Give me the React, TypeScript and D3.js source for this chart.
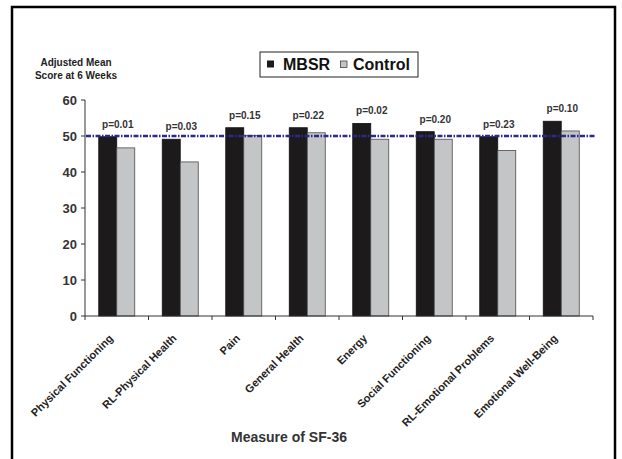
import React, { useEffect } from 'react';
import * as d3 from 'd3';

// SF-36 subscales
const measures = [
  'Physical Functioning',
  'RL-Physical Health',
  'Pain',
  'General Health',
  'Energy',
  'Social Functioning',
  'RL-Emotional Problems',
  'Emotional Well-Being',
];
const mbsrScores = [49.8, 49.1, 52.3, 52.3, 53.5, 51.2, 49.8, 54.1];
const controlScores = [46.7, 42.8, 50.1, 50.9, 49.1, 49.1, 46.0, 51.4];
const pValues = ['p=0.01', 'p=0.03', 'p=0.15', 'p=0.22', 'p=0.02', 'p=0.20', 'p=0.23', 'p=0.10'];
const yTicks = [0, 10, 20, 30, 40, 50, 60];
const referenceScore = 50;
const seriesNames = ['MBSR', 'Control'];

const W = 622;
const H = 459;
const font = '"Liberation Sans", Arial, Helvetica, sans-serif';

const App = () => {
  useEffect(() => {
    // drop the default body margin so the svg sits at 0,0
    document.body.style.margin = '0';
  }, []);

  const x = d3.scaleBand().domain(measures).range([85, 593]);
  const x1 = d3
    .scaleBand()
    .domain(seriesNames)
    .range([(x.bandwidth() - 36) / 2, (x.bandwidth() + 36) / 2]);
  const y = d3.scaleLinear().domain([0, 60]).range([316, 100]);

  const fills = { MBSR: '#1c1a1a', Control: '#c4c5c7' };
  const strokes = { MBSR: '#111', Control: '#4a4a4a' };

  const boundaries = measures.map((m) => x(m)!).concat([x.range()[1]]);

  return (
    <svg width={W} height={H} style={{ display: 'block', fontFamily: font }}>
      <rect x={0} y={0} width={W} height={H} fill="#fff" />
      {/* outer frame */}
      <rect x={12} y={7} width={603} height={470} fill="none" stroke="#000" strokeWidth={2.5} />

      {/* y axis title */}
      <text x={76} y={66} textAnchor="middle" fontSize={10} fontWeight="bold" fill="#222">
        Adjusted Mean
      </text>
      <text x={76} y={79} textAnchor="middle" fontSize={10} fontWeight="bold" fill="#222">
        Score at 6 Weeks
      </text>

      {/* legend */}
      <g>
        <rect x={260} y={52} width={158} height={25} fill="#fff" stroke="#222" strokeWidth={1} />
        <rect x={267} y={60.5} width={7} height={7} fill={fills.MBSR} />
        <text x={283} y={70} fontSize={16} fontWeight="bold" fill="#111">
          MBSR
        </text>
        <rect x={340.5} y={61} width={6.5} height={6.5} fill={fills.Control} stroke="#444" strokeWidth={0.8} />
        <text x={353} y={70} fontSize={16} fontWeight="bold" fill="#111">
          Control
        </text>
      </g>

      {/* bars */}
      {measures.map((m, i) => (
        <g key={m} transform={`translate(${x(m)},0)`}>
          {[mbsrScores[i], controlScores[i]].map((v, j) => {
            const s = seriesNames[j] as 'MBSR' | 'Control';
            return (
              <rect
                key={s}
                x={x1(s)}
                y={y(v)}
                width={x1.bandwidth()}
                height={y(0) - y(v)}
                fill={fills[s]}
                stroke={strokes[s]}
                strokeWidth={0.8}
              />
            );
          })}
        </g>
      ))}

      {/* reference line at 50 */}
      <line
        x1={x.range()[0] + 1}
        x2={x.range()[1] + 3}
        y1={y(referenceScore)}
        y2={y(referenceScore)}
        stroke="#2a2a8c"
        strokeWidth={2.5}
        strokeDasharray="5,1.5,1.5,1.5"
      />

      {/* p values */}
      {measures.map((m, i) => (
        <text
          key={m}
          x={x(m)! + x.bandwidth() / 2 + 1}
          y={y(Math.max(mbsrScores[i], controlScores[i])) - 9}
          textAnchor="middle"
          fontSize={10}
          fontWeight="bold"
          fill="#333"
        >
          {pValues[i]}
        </text>
      ))}

      {/* y axis */}
      <line x1={85} x2={85} y1={y(60)} y2={y(0)} stroke="#333" strokeWidth={1} />
      {yTicks.map((t) => (
        <g key={t}>
          <line x1={81} x2={85} y1={y(t)} y2={y(t)} stroke="#333" strokeWidth={1} />
          <text x={77} y={y(t)} dy="0.36em" textAnchor="end" fontSize={13} fontWeight="bold" fill="#333">
            {t}
          </text>
        </g>
      ))}

      {/* x axis */}
      <line x1={x.range()[0]} x2={x.range()[1]} y1={y(0)} y2={y(0)} stroke="#333" strokeWidth={1} />
      {boundaries.map((b, i) => (
        <line key={i} x1={b} x2={b} y1={y(0)} y2={y(0) + 4} stroke="#333" strokeWidth={1} />
      ))}
      {measures.map((m) => (
        <text
          key={m}
          transform={`translate(${x(m)! + x.bandwidth() / 2 - 3},${y(0) + 23}) rotate(-45)`}
          textAnchor="end"
          fontSize={11}
          fontWeight="bold"
          fill="#222"
        >
          {m}
        </text>
      ))}

      <text x={289} y={442} textAnchor="middle" fontSize={14} fontWeight="bold" fill="#333">
        Measure of SF-36
      </text>
    </svg>
  );
};

export default App;
